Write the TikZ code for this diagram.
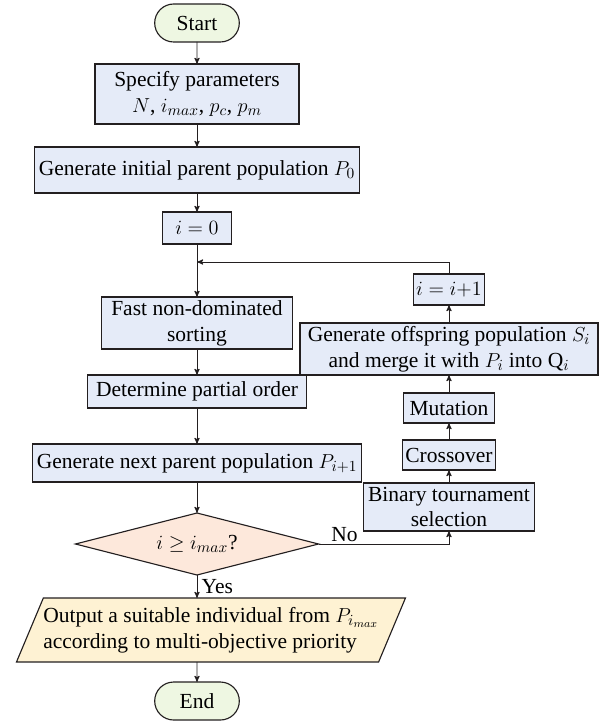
\documentclass[tikz,border=0pt]{standalone}
\usepackage{fontspec}
\setmainfont{Liberation Serif}
\usetikzlibrary{arrows,positioning,shapes.geometric,shapes.misc}
\definecolor{boxblue}{HTML}{E5EBF8}
\definecolor{termgreen}{HTML}{EEF7E2}
\definecolor{decpeach}{HTML}{FDE8DB}
\definecolor{outyellow}{HTML}{FEF2D3}
\definecolor{edgegray}{HTML}{231F20}
\tikzset{
    %Define standard arrow tip
    >=stealth',
    %Define style for process boxes
    box/.style={
           rectangle,
           draw=edgegray, line width=0.8pt,
           fill=boxblue,
           outer sep=0pt,
           inner xsep=2pt, inner ysep=1pt,
           align=center},
    %Define style for start and end
    term/.style={
           rounded rectangle,
           draw=edgegray, line width=0.8pt,
           fill=termgreen,
           outer sep=0pt,
           minimum width=2.35cm,
           minimum height=0.95cm},
    %Define style for the test
    decide/.style={
           diamond,
           draw=edgegray, line width=0.8pt,
           fill=decpeach,
           aspect=3.9,
           inner sep=0pt, outer sep=0pt,
           minimum width=6.075cm,
           minimum height=1.55cm},
    %Define style for the output
    io/.style={
           trapezium,
           trapezium left angle=61,
           trapezium right angle=119,
           trapezium stretches body,
           draw=edgegray, line width=0.8pt,
           fill=outyellow,
           inner xsep=0pt, inner ysep=1pt, outer sep=0pt,
           minimum height=1.6cm,
           align=left},
    % Define arrow style
    flow/.style={
           ->,
           draw=edgegray,
           line width=0.65pt}
}
\begin{document}
\begin{tikzpicture}[font=\fontsize{15.3}{18.4}\selectfont]
 %frame
    \useasboundingbox (-4.925,0.575) rectangle ++(15.325,-18.025);
 %main column
    \node[term] (start) at (0,0) {Start};
    \node[box, minimum width=5.1cm, minimum height=1.5cm, below=0.55cm of start] (spec)
        {Specify parameters\\ $N$, $i_{max}$, $p_c$, $p_m$};
    \node[box, minimum width=8.125cm, minimum height=1.15cm, below=0.575cm of spec] (init)
        {Generate initial parent population $P_0$};
    \node[box, minimum width=1.725cm, minimum height=0.8cm, below=0.475cm of init] (izero)
        {$i = 0$};
    \coordinate[below=0.45cm of izero] (join);
    \node[box, minimum width=4.775cm, minimum height=1.3cm, below=1.325cm of izero] (fast)
        {Fast non-dominated\\ sorting};
    \node[box, minimum width=5.475cm, minimum height=0.825cm, below=0.65cm of fast] (order)
        {Determine partial order};
    \node[box, minimum width=8.225cm, minimum height=0.95cm, below=0.9cm of order] (next)
        {Generate next parent population $P_{i+1}$};
    \node[decide, below=0.775cm of next] (dec) {$i \geq i_{max}$?};
    \node[io, below=0.575cm of dec, xshift=0.35cm] (out)
        {Output a suitable individual from $P_{i_{max}}$\\ according to multi-objective priority};
    \node[term, below=0.5cm of out, xshift=-0.35cm] (end) {End};
 %loop column
    \node[box, minimum width=4.275cm, minimum height=1.2cm, right=1.125cm of dec, yshift=0.925cm] (bin)
        {Binary tournament\\ selection};
    \node[box, minimum width=2.275cm, minimum height=0.75cm, above=0.325cm of bin] (cross)
        {Crossover};
    \node[box, minimum width=2.275cm, minimum height=0.75cm, above=0.425cm of cross] (mut)
        {Mutation};
    \node[box, minimum width=7.45cm, minimum height=1.3cm, above=0.45cm of mut] (off)
        {Generate offspring population $S_i$\\ and merge it with $P_i$ into Q$_i$};
    \node[box, minimum width=1.75cm, minimum height=0.775cm, above=0.45cm of off] (inc)
        {$i = i{+}1$};
 %edges
    \draw[flow] (start) -- (spec);
    \draw[flow] (spec) -- (init);
    \draw[flow] (init) -- (izero);
    \draw[flow] (izero) -- (fast);
    \draw[flow] (fast) -- (order);
    \draw[flow] (order) -- (next);
    \draw[flow] (next) -- (dec);
    \draw[flow] (dec.south) -- node[right, inner sep=3pt] {Yes} (dec.south |- out.north);
    \draw[flow] (out.south -| end.north) -- (end);
    \draw[flow] (dec.east) -| node[pos=0.1, above, inner sep=1pt] {No} (bin.south);
    \draw[flow] (bin) -- (cross);
    \draw[flow] (cross) -- (mut);
    \draw[flow] (mut) -- (off);
    \draw[flow] (off) -- (inc);
    \draw[flow] (inc.north) |- (join);
\end{tikzpicture}
\end{document}
